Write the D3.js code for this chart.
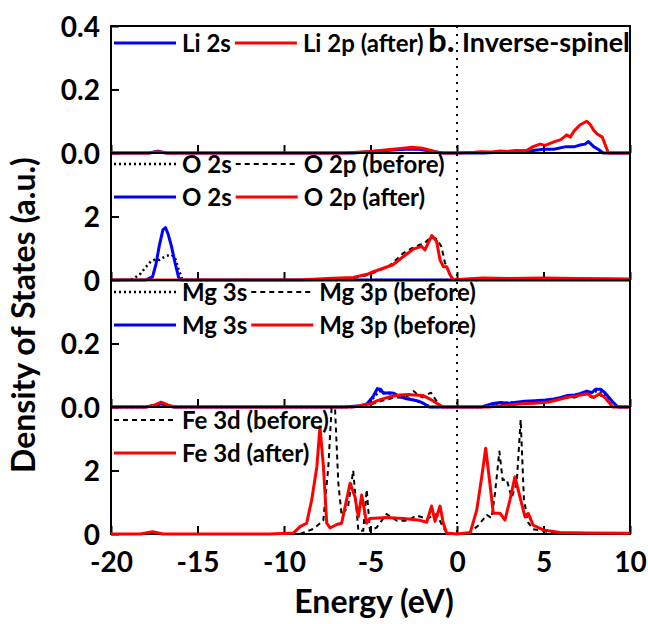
<!DOCTYPE html>
<html><head><meta charset="utf-8">
<script src="https://cdn.jsdelivr.net/npm/d3@7"></script>
<style>
body{margin:0;background:#fff}
svg{display:block}
text{font-family:Lato,"Open Sans",sans-serif;font-weight:700;fill:#000}
</style>
</head><body>
<svg id="chart" width="648" height="624"></svg>
<script>
// ---------------- DATA (energy in eV, DOS in a.u.) ----------------
const xTicks = [-20, -15, -10, -5, 0, 5, 10];

const li2sAfter = [[-20,0],[-17.8,0],[-17.3,0.006],[-16.8,0],[-6,0],[-4.5,0.006],[-3,0.012],[-2.2,0.012],[-1.3,0.004],[-0.8,0],[1.5,0],[3,0.004],[4.4,0.008],[5.0,0.012],[5.6,0.012],[6.3,0.02],[6.8,0.02],[7.1,0.025],[7.4,0.028],[7.6,0.036],[7.9,0.02],[8.2,0.01],[8.45,0],[10,0]];
const li2pAfter = [[-20,0],[-17.8,0],[-17.3,0.004],[-16.8,0],[-6.5,0],[-5,0.005],[-4,0.01],[-3.1,0.015],[-2.6,0.018],[-2.0,0.015],[-1.5,0.008],[-1.0,0],[0,0],[1.0,0.002],[1.4,0.004],[2.0,0.003],[2.5,0.006],[2.9,0.005],[3.4,0.008],[4.0,0.007],[4.4,0.02],[4.8,0.028],[5.1,0.024],[5.6,0.035],[6.0,0.042],[6.35,0.057],[6.55,0.05],[6.75,0.068],[7.1,0.088],[7.5,0.1],[7.7,0.09],[7.9,0.072],[8.1,0.06],[8.4,0.05],[8.75,0],[10,0]];

const o2sBefore = [[-20,0],[-18.9,0],[-18.6,0.08],[-18.3,0.2],[-18.0,0.4],[-17.7,0.58],[-17.45,0.65],[-17.2,0.63],[-17.0,0.7],[-16.8,0.76],[-16.5,0.8],[-16.3,0.7],[-16.1,0.35],[-15.9,0.05],[-15.7,0],[10,0]];
const o2pBefore = [[-20,0],[-9,0],[-7.5,0.03],[-6,0.06],[-5.2,0.15],[-4.5,0.3],[-3.9,0.45],[-3.5,0.65],[-3.1,0.85],[-2.6,1.0],[-2.2,1.1],[-1.9,1.15],[-1.5,1.35],[-1.2,1.3],[-0.9,1.05],[-0.7,0.55],[-0.5,0.3],[-0.3,0.05],[0,0],[1,0.02],[2,0.03],[4,0.04],[7,0.03],[9,0.02],[10,0]];
const o2sAfter = [[-20,0],[-18.0,0],[-17.6,0.1],[-17.4,0.5],[-17.2,1.1],[-17.0,1.58],[-16.85,1.65],[-16.7,1.45],[-16.5,1.05],[-16.3,0.55],[-16.1,0.1],[-16.0,0],[10,0]];
const o2pAfter = [[-20,0],[-9.1,0],[-7.5,0.05],[-6.0,0.08],[-5.2,0.18],[-4.84,0.26],[-4.26,0.37],[-3.7,0.48],[-3.1,0.74],[-2.53,0.97],[-2.05,1.06],[-1.85,0.95],[-1.46,1.4],[-1.18,1.22],[-0.98,0.63],[-0.79,0.42],[-0.6,0.42],[-0.4,0.16],[-0.2,0],[0.5,0.03],[1.5,0.06],[3,0.05],[5,0.06],[7,0.05],[9,0.04],[10,0.03]];

const mg3sBefore = [[-20,0],[-18,0],[-17.6,0.005],[-17.2,0.01],[-16.8,0.008],[-16.4,0],[-6,0],[-5.2,0.008],[-4.8,0.03],[-4.5,0.05],[-4.2,0.045],[-3.6,0.04],[-3.0,0.03],[-2.4,0.02],[-1.9,0.01],[-1.5,0],[1.4,0],[2.4,0.012],[3.9,0.016],[5.1,0.018],[6.3,0.033],[7.1,0.037],[7.5,0.045],[8.1,0.05],[8.5,0.04],[9.0,0.014],[9.3,0],[10,0]];
const mg3pBefore = [[-20,0],[-18,0],[-17.2,0.01],[-16.5,0],[-6,0],[-5,0.008],[-4.3,0.02],[-3.6,0.03],[-3.0,0.03],[-2.7,0.04],[-2.5,0.05],[-2.3,0.04],[-2.0,0.03],[-1.7,0.04],[-1.5,0.045],[-1.2,0.02],[-0.9,0],[1.6,0],[2.5,0.006],[3.5,0.01],[4.5,0.015],[5.3,0.018],[6.2,0.028],[6.8,0.03],[7.4,0.04],[7.8,0.03],[8.2,0.04],[8.6,0.025],[9.0,0],[10,0]];
const mg3sAfter = [[-20,0],[-18,0],[-17.5,0.004],[-17.1,0.01],[-16.7,0.004],[-16.4,0],[-6.5,0],[-5.6,0.004],[-5.2,0.01],[-4.85,0.033],[-4.6,0.058],[-4.4,0.055],[-4.25,0.043],[-3.9,0.045],[-3.65,0.043],[-3.3,0.032],[-3.0,0.027],[-2.5,0.022],[-2.2,0.018],[-1.95,0.012],[-1.6,0],[1.4,0],[2.0,0.01],[2.5,0.014],[3.0,0.012],[3.9,0.018],[4.5,0.02],[5.1,0.022],[5.6,0.025],[6.0,0.03],[6.4,0.036],[6.8,0.038],[7.1,0.042],[7.5,0.05],[7.8,0.045],[8.0,0.056],[8.3,0.056],[8.55,0.045],[9.0,0.016],[9.3,0],[10,0]];
const mg3pAfter = [[-20,0],[-18,0],[-17.5,0.006],[-17.1,0.015],[-16.7,0.006],[-16.3,0],[-6,0],[-5.0,0.01],[-4.6,0.02],[-4.2,0.027],[-3.8,0.033],[-3.3,0.038],[-2.8,0.039],[-2.5,0.038],[-1.95,0.036],[-1.56,0.025],[-1.17,0.012],[-0.8,0],[1.8,0],[2.8,0.005],[3.7,0.01],[4.5,0.012],[5.3,0.016],[6.0,0.025],[6.3,0.03],[6.9,0.035],[7.5,0.042],[7.9,0.03],[8.25,0.042],[8.6,0.027],[9.0,0],[10,0]];

const fe3dBefore = [[-20,0],[-9.1,0],[-8.3,0.16],[-7.73,0.42],[-7.44,2.1],[-7.25,3.95],[-7.05,3.95],[-6.86,1.6],[-6.67,0.6],[-6.3,0.85],[-6.0,2.0],[-5.7,0.1],[-5.42,0.1],[-5.22,1.4],[-5.03,0.1],[-4.65,0.2],[-4.07,0.63],[-3.48,0.42],[-2.9,0.42],[-2.33,0.58],[-1.75,0.48],[-1.18,0.63],[-0.79,0.2],[-0.55,0],[0.6,0],[1.2,0.25],[1.72,0.6],[2.0,0.5],[2.2,1.3],[2.45,2.6],[2.64,1.7],[2.87,1.72],[3.16,1.15],[3.45,1.6],[3.68,3.6],[3.87,1.07],[4.12,0.36],[4.4,0.15],[5.0,0.1],[5.6,0.02],[10,0]];
const fe3dAfter = [[-20,0],[-18.3,0],[-17.6,0.07],[-17.0,0],[-10.8,0],[-9.46,0.03],[-9.07,0.23],[-8.69,0.34],[-8.4,1.07],[-8.1,2.12],[-7.92,3.38],[-7.72,2.12],[-7.53,0.34],[-7.34,0.19],[-6.95,0.3],[-6.67,0.34],[-6.18,1.6],[-5.9,1.17],[-5.7,0.54],[-5.51,1.23],[-5.22,0.34],[-5.03,0.49],[-4.07,0.52],[-3.1,0.49],[-2.14,0.43],[-1.75,0.37],[-1.47,0.88],[-1.27,0.4],[-0.98,0.88],[-0.79,0.34],[-0.6,0.03],[0,0],[0.77,0.05],[1.14,0.75],[1.43,1.8],[1.66,2.7],[1.9,1.6],[2.1,0.65],[2.49,0.65],[2.77,0.44],[3.06,1.07],[3.35,1.8],[3.64,1.17],[3.93,0.54],[4.12,0.65],[4.4,0.28],[4.98,0.13],[5.95,0.05],[7.5,0.03],[10,0.02]];

// per-panel y ticks and labels
const liTicks = [0, 0.2, 0.4], liTickLabels = ["0.0", "0.2", "0.4"];
const oTicks = [0, 2], oTickLabels = ["0", "2"];
const mgTicks = [0, 0.2], mgTickLabels = ["0.0", "0.2"];
const feTicks = [0, 2], feTickLabels = ["0", "2"];

// ---------------- LAYOUT / STYLE ----------------
const svg = d3.select("#chart");
const L = 111, R = 630, PH = 127;
const tops = [26, 153, 280, 407];
const BLUE = "#0000ff", RED = "#ff0000";
const styles = {
  blue:   {stroke: BLUE, width: 3, dash: null},
  red:    {stroke: RED, width: 3, dash: null},
  dotted: {stroke: "#000", width: 2.5, dash: "2,3"},
  dashed: {stroke: "#000", width: 2, dash: "5,4"}
};

const x = d3.scaleLinear().domain([-20, 10]).range([L, R]);

const panels = [
  {ymax: 0.4, ticks: liTicks, labels: liTickLabels,
   series: [[li2sAfter, "blue"], [li2pAfter, "red"]],
   legend: [{dy: 17, items: [["blue", "Li 2s"], ["red", "Li 2p (after)"]]}]},
  {ymax: 4, ticks: oTicks, labels: oTickLabels,
   series: [[o2sBefore, "dotted"], [o2pBefore, "dashed"], [o2sAfter, "blue"], [o2pAfter, "red"]],
   legend: [{dy: 11, items: [["dotted", "O 2s"], ["dashed", "O 2p (before)"]]},
            {dy: 44, items: [["blue", "O 2s"], ["red", "O 2p (after)"]]}]},
  {ymax: 0.4, ticks: mgTicks, labels: mgTickLabels,
   series: [[mg3sBefore, "dotted"], [mg3pBefore, "dashed"], [mg3sAfter, "blue"], [mg3pAfter, "red"]],
   legend: [{dy: 12, items: [["dotted", "Mg 3s"], ["dashed", "Mg 3p (before)"]]},
            {dy: 45, items: [["blue", "Mg 3s"], ["red", "Mg 3p (before)"]]}]},
  {ymax: 4, ticks: feTicks, labels: feTickLabels,
   series: [[fe3dBefore, "dashed"], [fe3dAfter, "red"]],
   legend: [{dy: 13, items: [["dashed", "Fe 3d (before)"]]},
            {dy: 46, items: [["red", "Fe 3d (after)"]]}]}
];

const defs = svg.append("defs");
const hyphenFmt = d => String(d);   // plain hyphen-minus like the original

panels.forEach((p, i) => {
  const top = tops[i], bottom = top + PH;
  const y = d3.scaleLinear().domain([0, p.ymax]).range([bottom, top]);
  const g = svg.append("g");

  defs.append("clipPath").attr("id", "clip" + i)
    .append("rect").attr("x", L).attr("y", top).attr("width", R - L).attr("height", PH + 2);

  // border
  g.append("rect").attr("x", L).attr("y", top).attr("width", R - L).attr("height", PH)
    .attr("fill", "none").attr("stroke", "#000").attr("stroke-width", 2);

  // y axis (ticks inside)
  const yAxis = d3.axisLeft(y).tickValues(p.ticks)
    .tickFormat((d, k) => p.labels[k]).tickSizeInner(-8).tickSizeOuter(0).tickPadding(11);
  const ya = g.append("g").attr("transform", `translate(${L},0)`).call(yAxis);
  ya.select(".domain").remove();
  ya.selectAll("line").attr("stroke", "#000").attr("stroke-width", 2);
  ya.selectAll("text").attr("font-size", 28).attr("font-family", "Lato").attr("font-weight", 700)
    .attr("dy", "0.36em");

  // x ticks (inside, at bottom of each panel)
  const xAxis = d3.axisBottom(x).tickValues(xTicks).tickSizeInner(-8).tickSizeOuter(0).tickPadding(18)
    .tickFormat(i === panels.length - 1 ? hyphenFmt : () => "");
  const xa = g.append("g").attr("transform", `translate(0,${bottom})`).call(xAxis);
  xa.select(".domain").remove();
  xa.selectAll("line").attr("stroke", "#000").attr("stroke-width", 2);
  xa.selectAll("text").attr("font-size", 28).attr("font-family", "Lato").attr("font-weight", 700);

  // curves
  const line = d3.line().x(d => x(d[0])).y(d => y(d[1]));
  const cg = g.append("g").attr("clip-path", `url(#clip${i})`);
  p.series.forEach(([data, st]) => {
    const s = styles[st];
    cg.append("path").datum(data).attr("d", line)
      .attr("fill", "none").attr("stroke", s.stroke).attr("stroke-width", s.width)
      .attr("stroke-dasharray", s.dash).attr("stroke-linejoin", "round");
  });

  // legend
  p.legend.forEach(row => {
    let cx = 114;
    const ly = top + row.dy;
    row.items.forEach(([st, label]) => {
      const s = styles[st];
      g.append("line").attr("x1", cx).attr("x2", cx + 62).attr("y1", ly).attr("y2", ly)
        .attr("stroke", s.stroke).attr("stroke-width", s.width).attr("stroke-dasharray", s.dash);
      const t = g.append("text").attr("x", cx + 68).attr("y", ly).attr("dy", "0.36em")
        .attr("font-size", 24).text(label);
      cx = cx + 68 + t.node().getComputedTextLength() + 4;
    });
  });
});

// Fermi level dotted line
svg.append("line").attr("x1", x(0)).attr("x2", x(0)).attr("y1", tops[0]).attr("y2", tops[3] + PH)
  .attr("stroke", "#000").attr("stroke-width", 2).attr("stroke-dasharray", "2,6");

// panel label
svg.append("text").attr("x", 428).attr("y", 52).attr("font-size", 33).text("b.");
svg.append("text").attr("x", 462).attr("y", 52).attr("font-size", 27).text("Inverse-spinel");

// axis titles
svg.append("text").attr("x", 374).attr("y", 613).attr("text-anchor", "middle")
  .attr("font-size", 32).text("Energy (eV)");
svg.append("text").attr("transform", "translate(35,315) rotate(-90)").attr("text-anchor", "middle")
  .attr("font-size", 32).text("Density of States (a.u.)");
</script>
</body></html>
